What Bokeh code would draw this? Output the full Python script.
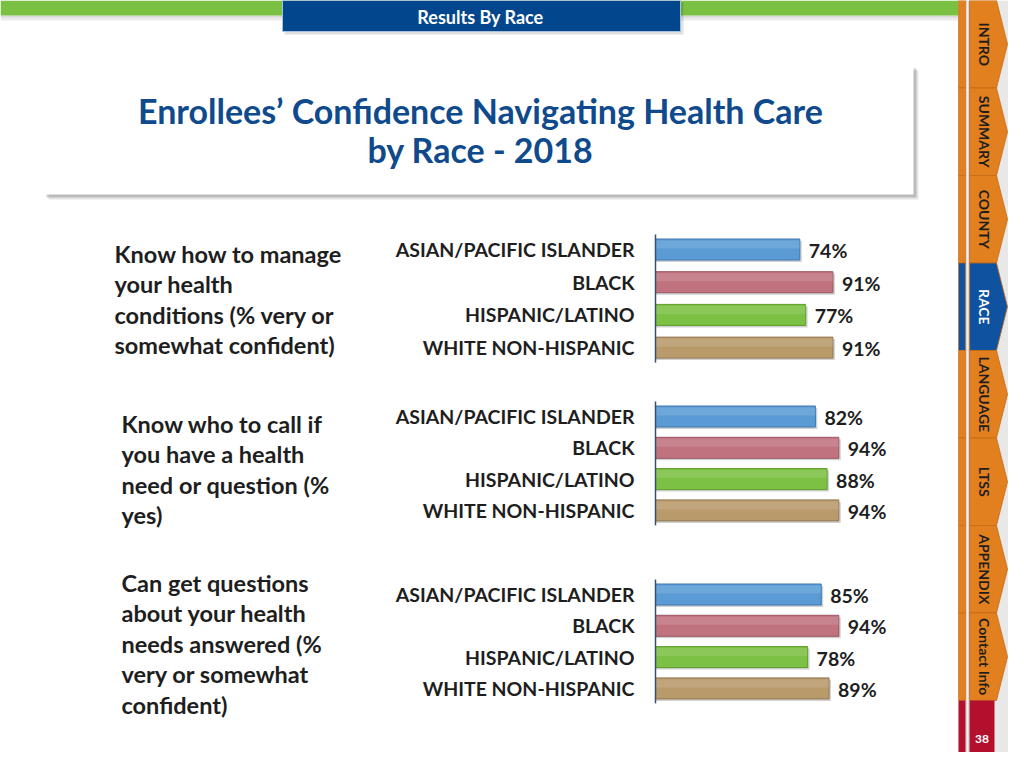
from math import pi
from bokeh.plotting import figure
from bokeh.models import Range1d, ColumnDataSource
from bokeh.core.properties import value
from bokeh.embed import file_html
from bokeh.resources import INLINE

# ---------------- data ----------------
races = ["ASIAN/PACIFIC ISLANDER", "BLACK", "HISPANIC/LATINO", "WHITE NON-HISPANIC"]
race_colors = ["#5B9BD5", "#C0727F", "#7CC143", "#B99A6B"]
race_edges = ["#3E77AE", "#9C5562", "#5E9C2C", "#927752"]

questions = [
    "Know how to manage\nyour health\nconditions (% very or\nsomewhat confident)",
    "Know who to call if\nyou have a health\nneed or question (%\nyes)",
    "Can get questions\nabout your health\nneeds answered (%\nvery or somewhat\nconfident)",
]
manage_vals = [74, 91, 77, 91]
call_vals = [82, 94, 88, 94]
answered_vals = [85, 94, 78, 89]
panel_values = [manage_vals, call_vals, answered_vals]

title_lines = ["Enrollees\u2019 Confidence Navigating Health Care", "by Race - 2018"]
header_text = "Results By Race"
nav_tabs = ["INTRO", "SUMMARY", "COUNTY", "RACE", "LANGUAGE", "LTSS", "APPENDIX", "Contact Info"]
active_tab = "RACE"
page_number = "38"

# ---------------- layout (pixels of the slide) ----------------
W, H = 1008, 752
AXIS_X = 655
PX_PER_PCT = 1.95
panel_first_row = [249, 416, 594]
panel_row_step = [32.7, 31.3, 31.3]
question_x = [114, 121, 121]
question_first_line = [253, 423, 582]
question_line_step = 30.6

FONT = value("Lato")
DARK = "#1E1E1E"
ORANGE = "#E2801F"
BLUE_TAB = "#0E52A0"
RED = "#B3102E"

p = figure(width=W, height=H, output_backend="svg", toolbar_location=None,
           x_range=Range1d(0, W), y_range=Range1d(H, 0),
           x_axis_location=None, y_axis_location=None, min_border=0,
           outline_line_color=None, background_fill_color="white",
           border_fill_color="white")
p.xgrid.grid_line_color = None
p.ygrid.grid_line_color = None
p.extra_x_ranges = {"pct": Range1d((0 - AXIS_X) / PX_PER_PCT, (W - AXIS_X) / PX_PER_PCT)}

# ---------------- header ----------------
p.quad(left=0, right=958, top=15, bottom=20, fill_color="#000000", fill_alpha=0.08, line_color=None)
p.quad(left=0, right=958, top=15, bottom=17, fill_color="#000000", fill_alpha=0.08, line_color=None)
p.quad(left=0, right=958, top=0, bottom=15, fill_color="#7AC143", line_color=None)
p.quad(left=284, right=683, top=2, bottom=34, fill_color="#000000", fill_alpha=0.12, line_color=None)
p.quad(left=282, right=680, top=0, bottom=31, fill_color="#02478E", line_color="#A9C0DC", line_width=1)
p.text(x=[480], y=[16], text=[header_text], text_font=FONT, text_font_size="18px",
       text_font_style="bold", text_color="white", text_align="center", text_baseline="middle")

# ---------------- title box ----------------
p.quad(left=48, right=918, top=70, bottom=199, fill_color="#000000", fill_alpha=0.10, line_color=None)
p.quad(left=46, right=916, top=68, bottom=197, fill_color="#000000", fill_alpha=0.18, line_color=None)
p.quad(left=44, right=913, top=64, bottom=194, fill_color="white", line_color=None)
for i, t in enumerate(title_lines):
    p.text(x=[480], y=[110 + i * 39], text=[t], text_font=FONT, text_font_size="34px",
           text_font_style="bold", text_color="#0F4A8C", text_align="center",
           text_baseline="middle")

# ---------------- questions ----------------
for qi, q in enumerate(questions):
    lines = q.split("\n")
    p.text(x=[question_x[qi]] * len(lines),
           y=[question_first_line[qi] + k * question_line_step for k in range(len(lines))],
           text=lines, text_font=FONT, text_font_size="23.5px", text_font_style="bold",
           text_color=DARK, text_align="left", text_baseline="middle")

# ---------------- bar panels ----------------
for pi_, vals in enumerate(panel_values):
    ys = [panel_first_row[pi_] + k * panel_row_step[pi_] for k in range(len(races))]
    src = ColumnDataSource(dict(
        y=ys, ys=[y + 2 for y in ys], yh=[y - 5 for y in ys], race=races, val=vals,
        vs=[v + 1.0 for v in vals], label=[f"{v}%" for v in vals],
        color=race_colors, edge=race_edges))
    # shadow
    p.hbar(y="ys", left=0, right="vs", height=21, source=src, x_range_name="pct",
           fill_color="#000000", fill_alpha=0.18, line_color=None)
    p.hbar(y="y", left=0, right="val", height=21, source=src, x_range_name="pct",
           fill_color="color", line_color="edge", line_width=1)
    p.hbar(y="yh", left=0, right="val", height=8, source=src, x_range_name="pct",
           fill_color="white", fill_alpha=0.12, line_color=None)
    # axis line
    p.segment(x0=[0], x1=[0], y0=[ys[0] - 15], y1=[ys[-1] + 15], x_range_name="pct",
              line_color="#34526E", line_width=1.5)
    # category labels
    p.text(x=0, y="y", text="race", source=src, x_range_name="pct", x_offset=-21,
           text_font=FONT, text_font_size="19.5px", text_font_style="bold",
           text_color=DARK, text_align="right", text_baseline="middle")
    # value labels
    p.text(x="val", y="y", text="label", source=src, x_range_name="pct", x_offset=9,
           y_offset=1, text_font=FONT, text_font_size="19.5px", text_font_style="bold",
           text_color=DARK, text_align="left", text_baseline="middle")

# ---------------- side navigation ----------------
TAB_H = 87.5
p.quad(left=958, right=W, top=0, bottom=H, fill_color="#E8E8E8", line_color=None)
p.quad(left=965, right=969, top=0, bottom=H, fill_color="#CFCFCF", line_color=None)
p.quad(left=966.2, right=967.8, top=0, bottom=H, fill_color="#EFEFEF", line_color=None)
xs, ys_, fills, sy0, sy1, tx, ty, tc = [], [], [], [], [], [], [], []
for i, name in enumerate(nav_tabs):
    top = i * TAB_H
    bot = top + TAB_H
    fill = BLUE_TAB if name == active_tab else ORANGE
    xs.append([969, 996, 1007, 996, 969])
    ys_.append([top, top, top + TAB_H / 2, bot, bot])
    fills.append(fill)
    sy0.append(top)
    sy1.append(bot)
    tx.append(984)
    ty.append(top + TAB_H / 2)
    tc.append("white" if name == active_tab else "#1E1E1E")
p.patches(xs=xs, ys=ys_, fill_color=fills, line_color="#C56A14", line_width=0.8)
p.quad(left=958, right=965, top=sy0, bottom=sy1, fill_color=fills, line_color="#C56A14",
       line_width=0.6)
p.text(x=tx, y=ty, text=nav_tabs, angle=-pi / 2, text_font=FONT, text_font_size="14px",
       text_font_style="bold", text_color=tc, text_align="center", text_baseline="middle")
# page number block
p.quad(left=958, right=965, top=len(nav_tabs) * TAB_H, bottom=H, fill_color=RED, line_color=None)
p.quad(left=969, right=994, top=len(nav_tabs) * TAB_H, bottom=H, fill_color=RED, line_color=None)
p.text(x=[981.5], y=[738], text=[page_number], text_font=FONT, text_font_size="12px",
       text_font_style="bold", text_color="white", text_align="center", text_baseline="middle")

open("out.html", "w").write(file_html(p, INLINE))
